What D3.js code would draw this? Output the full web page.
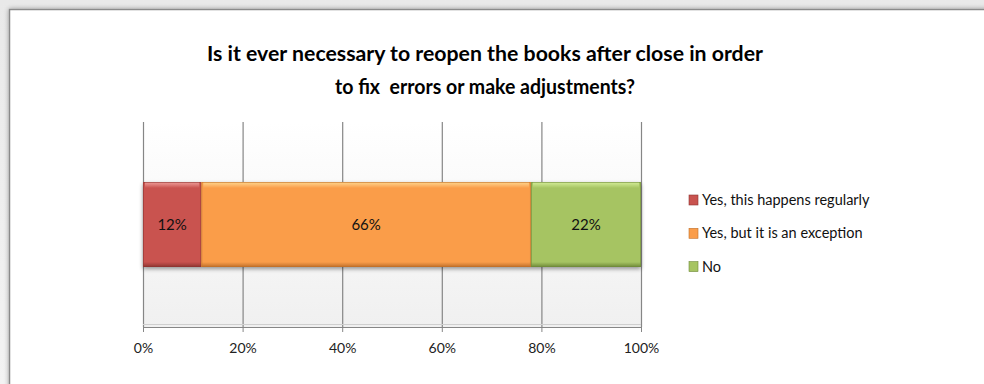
<!DOCTYPE html>
<html><head><meta charset="utf-8">
<script src="https://cdn.jsdelivr.net/npm/d3@7"></script>
<style>html,body{margin:0;padding:0;background:#fff;}svg{display:block;}</style>
</head><body>
<svg id="c" width="984" height="384"></svg>
<script>
const titleLines = ["Is it ever necessary to reopen the books after close in order", "to fix  errors or make adjustments?"];
const categories = ["Yes, this happens regularly", "Yes, but it is an exception", "No"];
const values = [11.7, 66.2, 22.1];
const colors = ["#c9534f", "#fa9d4a", "#a6c462"];
const lightColors = ["#f0a09c", "#ffd890", "#d6ef9a"];
const darkColors = ["#8e3532", "#c0702a", "#6f8a3a"];
const ticks = [0, 20, 40, 60, 80, 100];

const svg = d3.select("#c");
const defs = svg.append("defs");
const font = "Lato, 'Open Sans', sans-serif";

// outer background
const bg = defs.append("linearGradient").attr("id","bg").attr("x1",0).attr("y1",0).attr("x2",0).attr("y2",1);
bg.append("stop").attr("offset",0).attr("stop-color","#e9e9e9");
bg.append("stop").attr("offset",1).attr("stop-color","#f3f3f3");
svg.append("rect").attr("width",984).attr("height",384).attr("fill","url(#bg)");
const sh = defs.append("filter").attr("id","fs").attr("filterUnits","userSpaceOnUse")
  .attr("x",-20).attr("y",-20).attr("width",1200).attr("height",500);
sh.append("feGaussianBlur").attr("in","SourceAlpha").attr("stdDeviation",2.5);
sh.append("feOffset").attr("dx",0).attr("dy",0).attr("result","b");
sh.append("feComponentTransfer").append("feFuncA").attr("type","linear").attr("slope",0.35);
const fm = sh.append("feMerge"); fm.append("feMergeNode"); fm.append("feMergeNode").attr("in","SourceGraphic");
svg.append("rect").attr("x",9.5).attr("y",9.5).attr("width",1100).attr("height",450)
  .attr("fill","#fff").attr("stroke","#8a8a8a").attr("stroke-width",1.5).attr("filter","url(#fs)");

// title
const titleWidths = [556, 300];
svg.append("g").selectAll("text").data(titleLines).join("text")
  .attr("x",485).attr("y",(d,i)=>61+i*33).attr("text-anchor","middle")
  .attr("font-family",font).attr("font-weight","bold").attr("font-size",20).attr("fill","#000")
  .attr("textLength",(d,i)=>titleWidths[i]).attr("lengthAdjust","spacingAndGlyphs")
  .style("white-space","pre")
  .text(d=>d);

const L = 143, R = 641, T = 122, B = 327;
const x = d3.scaleLinear().domain([0,100]).range([L,R]);
const y = d3.scaleBand().domain(["q"]).range([T,B]).paddingInner(0).paddingOuter(0.706);

// plot background gradient
const pg = defs.append("linearGradient").attr("id","pg").attr("x1",0).attr("y1",0).attr("x2",0).attr("y2",1);
pg.append("stop").attr("offset",0).attr("stop-color","#ffffff");
pg.append("stop").attr("offset",1).attr("stop-color","#f0f0f0");
svg.append("rect").attr("x",L).attr("y",T).attr("width",R-L).attr("height",B-T).attr("fill","url(#pg)");

// gridlines + axis
const gx = svg.append("g").attr("transform",`translate(0,${B})`)
  .call(d3.axisBottom(x).tickValues(ticks).tickSize(5).tickFormat(d=>d+"%"));
gx.select(".domain").attr("stroke","#868686");
gx.selectAll(".tick line").attr("stroke","#868686");
gx.selectAll(".tick text").attr("font-family",font).attr("font-size",14).attr("fill","#222").attr("dy","1.25em");
svg.append("g").selectAll("line").data(ticks).join("line")
  .attr("x1",d=>x(d)+0.5).attr("x2",d=>x(d)+0.5).attr("y1",T).attr("y2",B)
  .attr("stroke","#868686").attr("stroke-width",1.2);
svg.append("line").attr("x1",L).attr("x2",R).attr("y1",B-2.5).attr("y2",B-2.5).attr("stroke","#cfcfcf");

// bar shadow
const bs = defs.append("filter").attr("id","bs").attr("x","-5%").attr("y","-30%").attr("width","110%").attr("height","160%");
bs.append("feGaussianBlur").attr("in","SourceAlpha").attr("stdDeviation",2);
bs.append("feOffset").attr("dx",0).attr("dy",2).attr("result","o");
bs.append("feComponentTransfer").append("feFuncA").attr("type","linear").attr("slope",0.4);
const bm = bs.append("feMerge"); bm.append("feMergeNode"); bm.append("feMergeNode").attr("in","SourceGraphic");

let cum = 0;
const segs = values.map((v,i)=>{ const s={i,v,x0:cum,x1:cum+v}; cum+=v; return s; });
const by = y("q"), bh = y.bandwidth();
const bars = svg.append("g").attr("filter","url(#bs)");
segs.forEach(s=>{
  const g = bars.append("g");
  const x0 = x(s.x0), w = x(s.x1)-x(s.x0);
  g.append("rect").attr("x",x0).attr("y",by).attr("width",w).attr("height",bh).attr("fill",colors[s.i]);
  const hg = defs.append("linearGradient").attr("id","hg"+s.i).attr("x1",0).attr("y1",0).attr("x2",0).attr("y2",1);
  hg.append("stop").attr("offset",0).attr("stop-color",lightColors[s.i]);
  hg.append("stop").attr("offset",1).attr("stop-color",colors[s.i]);
  g.append("rect").attr("x",x0+2).attr("y",by).attr("width",Math.max(0,w-4)).attr("height",6).attr("fill","url(#hg"+s.i+")");
  const dg = defs.append("linearGradient").attr("id","dg"+s.i).attr("x1",0).attr("y1",0).attr("x2",0).attr("y2",1);
  dg.append("stop").attr("offset",0).attr("stop-color",colors[s.i]);
  dg.append("stop").attr("offset",1).attr("stop-color",darkColors[s.i]);
  g.append("rect").attr("x",x0).attr("y",by+bh-5).attr("width",w).attr("height",5).attr("fill","url(#dg"+s.i+")");
  g.append("rect").attr("x",x0+0.5).attr("y",by+0.5).attr("width",w-1).attr("height",bh-1)
    .attr("fill","none").attr("stroke",darkColors[s.i]).attr("stroke-opacity",0.6);
});
svg.append("g").selectAll("text").data(segs).join("text")
  .attr("x",d=>x((d.x0+d.x1)/2)).attr("y",by+bh/2).attr("dy","0.35em").attr("text-anchor","middle")
  .attr("font-family",font).attr("font-size",15).attr("fill","#111")
  .text(d=>d3.format(".0f")(d.v)+"%");

// legend
const lg = svg.append("g").attr("transform","translate(689,200)");
const items = lg.selectAll("g").data(categories).join("g").attr("transform",(d,i)=>`translate(0,${i*33.3})`);
items.append("rect").attr("x",0).attr("y",-5).attr("width",9).attr("height",10)
  .attr("fill",(d,i)=>colors[i]).attr("stroke",(d,i)=>darkColors[i]).attr("stroke-width",0.6);
items.append("text").attr("x",13).attr("y",0).attr("dy","0.35em")
  .attr("font-family",font).attr("font-size",14.5).attr("fill","#111").text(d=>d);
</script>
</body></html>
